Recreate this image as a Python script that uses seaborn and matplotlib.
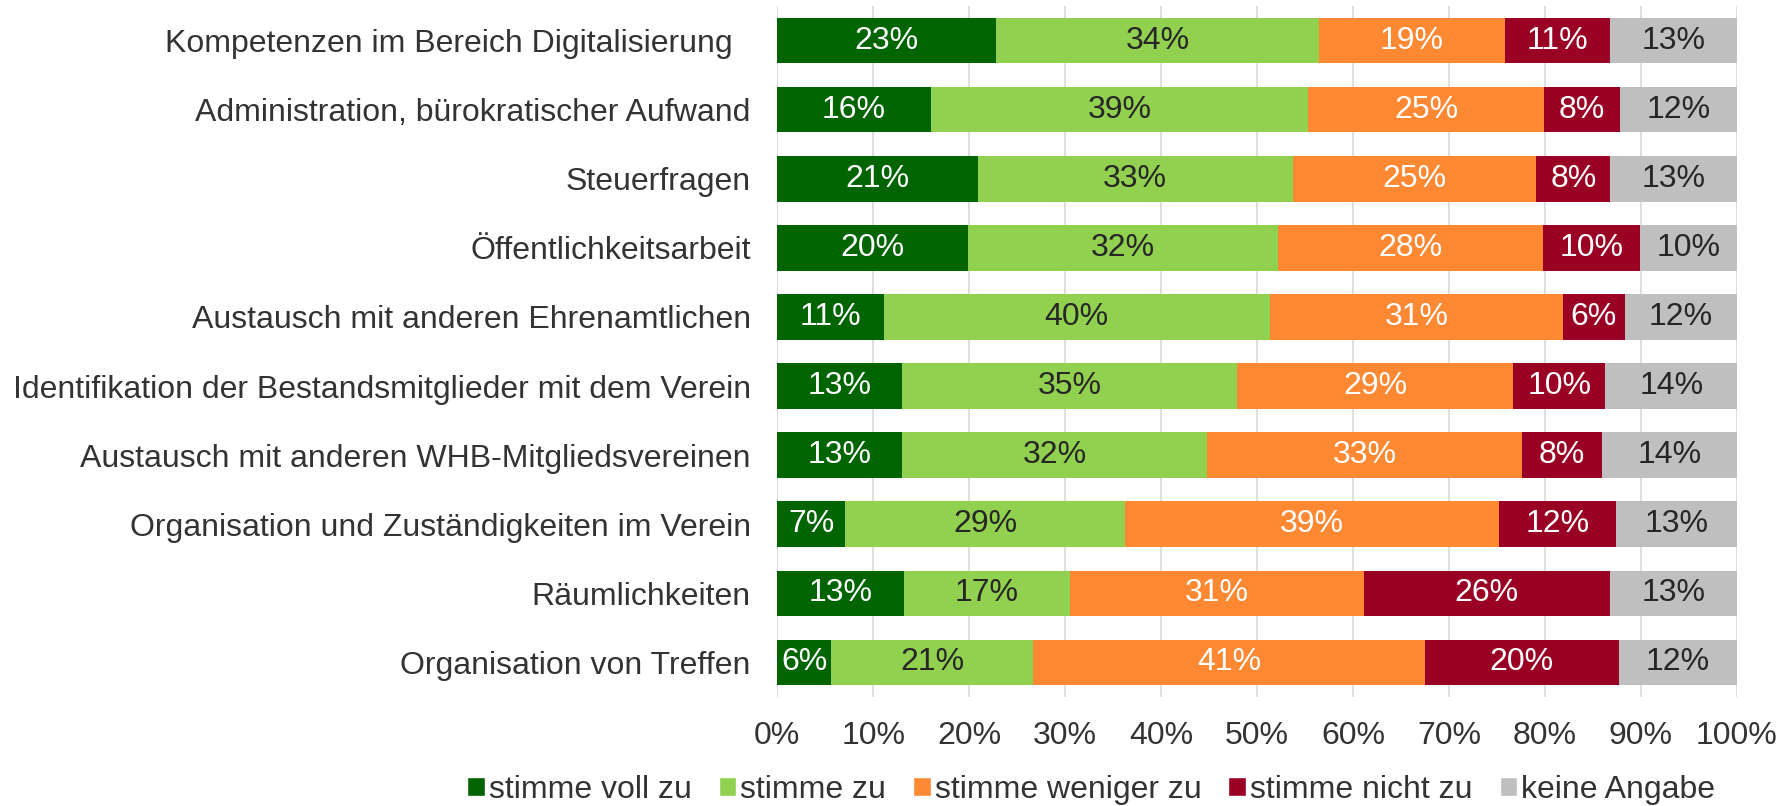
import numpy as np
import pandas as pd
import matplotlib
matplotlib.use("Agg")
import matplotlib.pyplot as plt
from matplotlib.patches import Patch
import seaborn as sns

categories = [
    "Kompetenzen im Bereich Digitalisierung  ",
    "Administration, bürokratischer Aufwand",
    "Steuerfragen",
    "Öffentlichkeitsarbeit",
    "Austausch mit anderen Ehrenamtlichen",
    "Identifikation der Bestandsmitglieder mit dem Verein",
    "Austausch mit anderen WHB-Mitgliedsvereinen",
    "Organisation und Zuständigkeiten im Verein",
    "Räumlichkeiten",
    "Organisation von Treffen",
]

series = ["stimme voll zu", "stimme zu", "stimme weniger zu", "stimme nicht zu", "keine Angabe"]

voll_zu = [22.8, 16.0, 20.9, 19.9, 11.1, 13.0, 13.0, 7.1, 13.2, 5.6]
zu = [33.7, 39.3, 32.8, 32.3, 40.2, 34.9, 31.8, 29.1, 17.3, 21.1]
weniger_zu = [19.3, 24.6, 25.4, 27.6, 30.6, 28.8, 32.8, 39.0, 30.6, 40.8]
nicht_zu = [11.0, 7.9, 7.7, 10.1, 6.4, 9.6, 8.3, 12.2, 25.7, 20.2]
keine_angabe = [13.2, 12.3, 13.2, 10.1, 11.7, 13.8, 14.1, 12.6, 13.2, 12.3]

colors = ["#006400", "#92D050", "#FF8833", "#990024", "#BFBFBF"]
text_colors = ["white", "#262626", "white", "white", "#262626"]

df = pd.DataFrame(
    {"Kategorie": categories, series[0]: voll_zu, series[1]: zu,
     series[2]: weniger_zu, series[3]: nicht_zu, series[4]: keine_angabe}
)
cum = df[series].cumsum(axis=1)

sns.set_style("white")
plt.rcParams["font.family"] = ["Liberation Sans", "DejaVu Sans"]
FS = 23

fig = plt.figure(figsize=(17.8, 8.06), dpi=100)
ax = fig.add_axes([0.4366, 0.1352, 0.5392, 0.8574])

# stacked bars: draw cumulative totals from last to first so they overlap
for s, c in reversed(list(zip(series, colors))):
    sns.barplot(x=cum[s], y=df["Kategorie"], color=c, saturation=1, width=0.66,
                orient="h", linewidth=0, ax=ax, order=categories)

for s, tc in zip(series, text_colors):
    for i, (v, end) in enumerate(zip(df[s], cum[s])):
        ax.text(end - v / 2, i, f"{v:.0f}%", ha="center", va="center",
                color=tc, fontsize=FS)

ax.set_xlim(0, 100)
ax.set_xticks(np.arange(0, 101, 10))
ax.set_xticklabels([f"{t}%" for t in range(0, 101, 10)])
ax.xaxis.grid(True, color="#D9D9D9", linewidth=1.2)
ax.set_axisbelow(True)
for sp in ax.spines.values():
    sp.set_visible(False)
ax.set_xlabel("")
ax.set_ylabel("")
ax.tick_params(axis="both", length=0, labelsize=FS, labelcolor="#333333")
ax.tick_params(axis="y", pad=19)
ax.tick_params(axis="x", pad=17)

handles = [Patch(facecolor=c, label=s) for s, c in zip(series, colors)]
fig.legend(handles=handles, loc="center", bbox_to_anchor=(0.613, 0.02), ncol=5,
           frameon=False, fontsize=FS, handlelength=0.55, handleheight=0.55,
           handletextpad=0.12, columnspacing=0.85, labelcolor="#333333")

fig.savefig("out.png", dpi=100)
